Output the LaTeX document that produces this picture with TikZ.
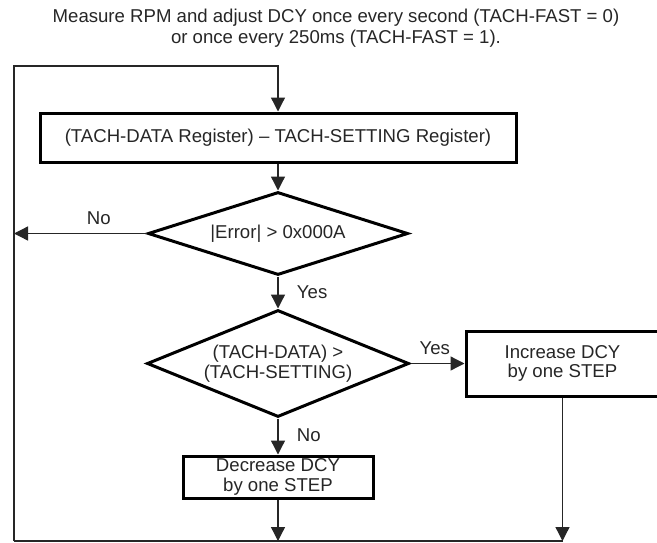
\documentclass[tikz,border=0pt]{standalone}
\usepackage{fontspec}
\setmainfont{Liberation Sans}
\usetikzlibrary{arrows.meta,shapes.geometric,calc,positioning}
\tikzset{
	block/.style={draw,line width=3pt,text=black!85,align=center,inner sep=2pt,font=\fontsize{18.6}{19.5}\selectfont},
	decision/.style={diamond,draw,line width=3pt,text=black!85,align=center,inner sep=0pt,font=\fontsize{18.6}{19.5}\selectfont},
	flow/.style={line width=1.3pt,black!85},
	tip/.style={-{Triangle[width=14pt,length=14pt]}},
	lbl/.style={text=black!85},
}
\begin{document}
\begin{tikzpicture}[x=1pt,y=-1pt,font=\fontsize{18.6}{21}\selectfont]
				\useasboundingbox (0,0) rectangle (657,542);
				\node (title) at (336,28) [text=black!85,align=center] {Measure RPM and adjust DCY once every second (TACH-FAST = 0)\\or once every 250ms (TACH-FAST = 1).};
				\node (calc) at (278,137.5) [block,minimum width=476pt,minimum height=49pt] {(TACH-DATA Register) -- TACH-SETTING Register)};
				\node (err) at (278,233.5) [decision,aspect=3.13,minimum width=260pt,minimum height=83pt] {|Error| > 0x000A};
				\node (cmp) at (278,363.5) [decision,aspect=2.45,minimum width=262pt,minimum height=107pt] {(TACH-DATA) >\\(TACH-SETTING)};
				\node (inc) at (562.5,363.5) [block,minimum width=193pt,minimum height=65pt] {Increase DCY\\by one STEP};
				\node (dec) at (278,477) [block,minimum width=190pt,minimum height=42pt] {Decrease DCY\\by one STEP};
				\coordinate (bl) at (14,541);
				\coordinate (tl) at (14,66);
				% loop back to the top
				\draw[flow,tip] (bl) -- (tl) -| (calc.north);
				\draw[flow] (bl) -- (inc.south |- bl);
				\draw[flow,tip] (calc.south) -- (err.north);
				\draw[flow,tip] (err.west) -- (err.west -| bl) node[lbl,pos=.36,above=5pt] {No};
				\draw[flow,tip] (err.south) -- (cmp.north) node[lbl,midway,right=15pt] {Yes};
				\draw[flow,tip] (cmp.east) -- (inc.west) node[lbl,pos=.45,above=5pt] {Yes};
				\draw[flow,tip] (cmp.south) -- (dec.north) node[lbl,pos=.45,right=15pt] {No};
				\draw[flow,tip] (dec.south) -- (dec.south |- bl);
				\draw[flow,tip] (inc.south) -- (inc.south |- bl);
\end{tikzpicture}
\end{document}
